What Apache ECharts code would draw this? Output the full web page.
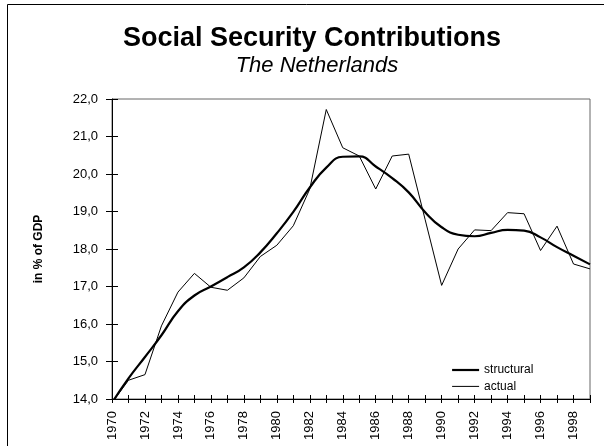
<!DOCTYPE html>
<html lang="en" style="height: 100%">

<head>
  <meta charset="utf-8">
</head>

<body style="height: 100%; margin: 0; background: #fff">
  <div id="container" style="width: 604px; height: 446px"></div>

  <script type="text/javascript" src="https://cdn.jsdelivr.net/npm/echarts@6/dist/echarts.min.js"></script>

  <script type="text/javascript">
    var years = [];
    for (var y = 1970; y <= 1999; y++) years.push(String(y));

    var structural = [13.9, 14.55, 15.12, 15.7, 16.34, 16.76, 17.0, 17.25, 17.51, 17.91,
      18.42, 18.99, 19.64, 20.17, 20.46, 20.47, 20.2, 19.89, 19.51, 18.98,
      18.58, 18.38, 18.34, 18.43, 18.51, 18.49, 18.31, 18.05, 17.82, 17.59];

    var actual = [13.9, 14.5, 14.65, 15.95, 16.85, 17.35, 16.98, 16.9, 17.23, 17.8,
      18.1, 18.62, 19.6, 21.72, 20.7, 20.48, 19.6, 20.48, 20.53, 18.78,
      17.03, 18.0, 18.51, 18.49, 18.97, 18.94, 17.96, 18.61, 17.6, 17.47];

    var font = 'Liberation Sans, Arial, sans-serif';

    var dom = document.getElementById('container');
    var myChart = echarts.init(dom, null, { renderer: 'canvas' });

    // ticks in the reference cross the axis line, so each axis is drawn twice
    var option = {
      backgroundColor: '#fff',
      animation: false,
      title: [
        {
          text: 'Social Security Contributions',
          left: 307,
          top: 20,
          textAlign: 'center',
          textStyle: { fontFamily: font, fontSize: 27, fontWeight: 'bold', color: '#000' }
        },
        {
          text: 'The Netherlands',
          left: 312,
          top: 50,
          textAlign: 'center',
          textStyle: { fontFamily: font, fontSize: 22, fontStyle: 'italic', fontWeight: 'normal', color: '#000' }
        }
      ],
      graphic: [
        {
          type: 'rect',
          shape: { x: 7.5, y: 4.5, width: 700, height: 600 },
          style: { fill: 'none', stroke: '#000', lineWidth: 1 },
          silent: true
        }
      ],
      legend: {
        orient: 'vertical',
        left: 446,
        top: 359,
        itemWidth: 27,
        itemHeight: 10,
        itemGap: 4.4,
        itemStyle: { opacity: 0, borderWidth: 0 },
        textStyle: { fontFamily: font, fontSize: 12, color: '#000' },
        data: [
          { name: 'structural', lineStyle: { width: 2.2 } },
          { name: 'actual', lineStyle: { width: 1 } }
        ]
      },
      grid: {
        left: 112,
        right: 14,
        top: 99,
        bottom: 47,
        show: true,
        borderColor: '#666',
        borderWidth: 1
      },
      xAxis: [
        {
          type: 'category',
          data: years,
          boundaryGap: false,
          axisLine: { lineStyle: { color: '#000', width: 1 } },
          axisTick: { show: true, interval: 0, length: 4, lineStyle: { color: '#000' } },
          axisLabel: {
            interval: 1,
            rotate: 90,
            margin: 12,
            fontFamily: font,
            fontSize: 13,
            color: '#000'
          },
          splitLine: { show: false }
        },
        {
          type: 'category',
          data: years,
          boundaryGap: false,
          position: 'bottom',
          axisLine: { show: false },
          axisTick: { show: true, inside: true, interval: 0, length: 4, lineStyle: { color: '#000' } },
          axisLabel: { show: false },
          splitLine: { show: false }
        }
      ],
      yAxis: [
        {
          type: 'value',
          min: 14,
          max: 22,
          interval: 1,
          name: 'in % of GDP',
          nameLocation: 'middle',
          nameGap: 67,
          nameTextStyle: { fontFamily: font, fontSize: 12, fontWeight: 'bold', color: '#000' },
          axisLine: { show: true, lineStyle: { color: '#000', width: 1 } },
          axisTick: { show: true, length: 6, lineStyle: { color: '#000' } },
          axisLabel: {
            margin: 14,
            fontFamily: font,
            fontSize: 13,
            color: '#000',
            formatter: function (v) { return v.toFixed(1).replace('.', ','); }
          },
          splitLine: { show: false }
        },
        {
          type: 'value',
          min: 14,
          max: 22,
          interval: 1,
          position: 'left',
          axisLine: { show: false },
          axisTick: { show: true, inside: true, length: 6, lineStyle: { color: '#000' } },
          axisLabel: { show: false },
          splitLine: { show: false }
        }
      ],
      series: [
        {
          name: 'structural',
          type: 'line',
          data: structural,
          smooth: true,
          symbol: 'none',
          clip: true,
          lineStyle: { color: '#000', width: 2.2 },
          itemStyle: { color: '#000' }
        },
        {
          name: 'actual',
          type: 'line',
          data: actual,
          symbol: 'none',
          clip: true,
          lineStyle: { color: '#000', width: 1 },
          itemStyle: { color: '#000' }
        }
      ]
    };

    myChart.setOption(option);
    window.addEventListener('resize', myChart.resize);
  </script>
</body>

</html>
